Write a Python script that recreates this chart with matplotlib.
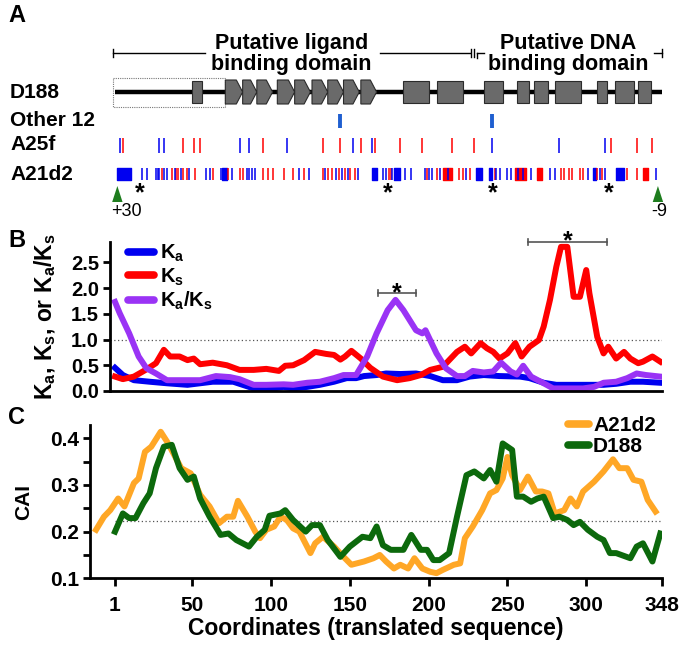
import numpy as np
import matplotlib
matplotlib.use('Agg')
import matplotlib.pyplot as plt
from matplotlib.patches import Polygon, Rectangle
from matplotlib.lines import Line2D
from matplotlib.transforms import blended_transform_factory

plt.rcParams['font.family'] = 'Liberation Sans'
plt.rcParams['font.weight'] = 'bold'
plt.rcParams['axes.labelweight'] = 'bold'
plt.rcParams['mathtext.fontset'] = 'custom'
plt.rcParams['mathtext.rm'] = 'Liberation Sans:bold'
plt.rcParams['mathtext.it'] = 'Liberation Sans:bold'
plt.rcParams['mathtext.bf'] = 'Liberation Sans:bold'
plt.rcParams['mathtext.default'] = 'bf'
plt.rcParams['axes.unicode_minus'] = False

# ---------------- data ----------------
# panel A: gene model of D188 (codon coordinates)
d188_arrows = [(71, 82), (82, 91), (91, 101), (104, 115), (115, 125), (126, 136),
               (136, 146), (146, 156), (157, 167)]
d188_boxes = [(50, 56), (184, 200), (205, 222), (235, 247), (256, 264), (267, 276),
              (280, 297), (307, 313), (318, 330), (333, 341)]
d188_dotted = (0, 71)

other12 = [144, 240]
a25f_blue = [4, 29, 32, 80, 86, 110, 152, 164, 240, 283, 312]
a25f_red = [6, 44, 51, 55, 95, 133, 144, 157, 166, 182, 196, 215, 229, 316, 332, 342]

a21d2_blue = [18, 21, 27, 28, 29, 32, 34, 39, 43, 48, 59, 61, 68, 75, 85, 86, 88, 90,
              118, 124, 134, 141, 145, 149, 155, 171, 173, 177, 185, 189, 198, 200,
              202, 207, 212, 224, 243, 245, 250, 252, 257, 260, 265, 277, 280, 301,
              309, 312, 344]
a21d2_blue_blocks = [(2, 11), (69, 72), (164, 167), (178, 182), (230, 234), (238, 240),
                     (304, 306), (319, 324)]
a21d2_red = [31, 37, 40, 41, 44, 47, 52, 63, 73, 80, 82, 95, 98, 101, 108, 114, 121,
             133, 136, 139, 143, 147, 150, 153, 175, 176, 199, 205, 219, 222, 226, 242,
             284, 286, 289, 291, 296, 298, 307, 310, 326, 332]
a21d2_red_blocks = [(209, 215), (255, 262), (269, 272), (336, 339)]
a_stars = [17, 174, 241, 314]
ends = [2.5, 345.5]
end_labels = ['+30', '-9']

# panel B: Ka, Ks, Ka/Ks
ka_x = [1, 6, 13, 23, 34, 47, 55, 63, 76, 82, 89, 102, 108, 114, 123, 131, 140, 148,
        154, 159, 167, 173, 182, 192, 201, 209, 218, 226, 235, 245, 258, 264, 273, 281,
        294, 302, 311, 319, 328, 336, 347]
ka_y = [0.45, 0.31, 0.21, 0.18, 0.15, 0.12, 0.15, 0.18, 0.18, 0.12, 0.05, 0.05, 0.08,
        0.05, 0.08, 0.12, 0.18, 0.25, 0.25, 0.29, 0.31, 0.34, 0.33, 0.34, 0.29, 0.21,
        0.21, 0.28, 0.31, 0.29, 0.28, 0.25, 0.16, 0.12, 0.12, 0.12, 0.12, 0.14, 0.18,
        0.18, 0.16]
ks_x = [1, 6, 13, 21, 27, 32, 36, 42, 47, 51, 55, 63, 72, 80, 89, 97, 105, 109, 114,
        121, 128, 135, 140, 144, 147, 151, 157, 163, 171, 180, 188, 195, 201, 209, 218,
        223, 227, 233, 237, 241, 245, 250, 255, 259, 264, 270, 273, 277, 281, 284, 288,
        292, 296, 300, 302, 307, 311, 314, 319, 324, 328, 333, 336, 342, 347]
ks_y = [0.28, 0.23, 0.28, 0.42, 0.54, 0.80, 0.67, 0.67, 0.60, 0.63, 0.52, 0.55, 0.50,
        0.41, 0.41, 0.43, 0.39, 0.49, 0.50, 0.60, 0.76, 0.72, 0.70, 0.61, 0.67, 0.78,
        0.63, 0.45, 0.28, 0.21, 0.25, 0.31, 0.41, 0.47, 0.76, 0.86, 0.73, 0.93, 0.83,
        0.76, 0.63, 0.73, 0.93, 0.67, 0.86, 0.99, 1.25, 1.77, 2.41, 2.80, 2.80, 1.83,
        1.83, 2.35, 1.90, 1.05, 0.73, 0.86, 0.63, 0.76, 0.63, 0.54, 0.57, 0.67, 0.57]
kaks_x = [1, 4, 10, 16, 21, 27, 34, 42, 55, 65, 74, 80, 89, 97, 108, 114, 123, 131,
          140, 146, 154, 161, 167, 174, 179, 184, 192, 196, 198, 205, 211, 218, 223,
          228, 235, 241, 246, 252, 256, 260, 265, 273, 279, 286, 298, 305, 311, 319,
          326, 332, 338, 347]
kaks_y = [1.73, 1.51, 1.12, 0.67, 0.44, 0.34, 0.21, 0.21, 0.21, 0.29, 0.27, 0.23, 0.12,
          0.12, 0.13, 0.12, 0.16, 0.18, 0.25, 0.31, 0.31, 0.67, 1.12, 1.57, 1.77, 1.57,
          1.18, 1.12, 1.18, 0.73, 0.44, 0.29, 0.29, 0.39, 0.36, 0.38, 0.55, 0.38, 0.32,
          0.49, 0.28, 0.15, 0.05, 0.05, 0.05, 0.08, 0.16, 0.18, 0.25, 0.34, 0.31, 0.28]
b_brackets = [(168, 192, 1.90), (263, 313, 2.90)]

# panel C: CAI
a21d2_x = [-11, -6, -2, 3, 7, 13, 16, 20, 24, 30, 34, 38, 43, 49, 55, 61, 67, 72, 76,
           79, 85, 90, 93, 97, 102, 106, 110, 114, 118, 125, 128, 133, 140, 146, 151,
           159, 165, 169, 173, 178, 182, 187, 191, 196, 201, 205, 209, 216, 220, 223,
           228, 234, 239, 243, 247, 250, 253, 258, 263, 268, 272, 276, 280, 286, 290,
           294, 298, 305, 311, 317, 321, 326, 330, 335, 339, 344]
a21d2_y = [0.204, 0.232, 0.246, 0.271, 0.254, 0.304, 0.314, 0.371, 0.382, 0.414, 0.393,
           0.368, 0.336, 0.325, 0.279, 0.254, 0.218, 0.232, 0.232, 0.266, 0.232, 0.2,
           0.186, 0.204, 0.211, 0.232, 0.225, 0.207, 0.2, 0.154, 0.175, 0.189, 0.168,
           0.146, 0.129, 0.136, 0.143, 0.15, 0.136, 0.121, 0.129, 0.121, 0.143, 0.121,
           0.114, 0.111, 0.118, 0.129, 0.132, 0.186, 0.211, 0.246, 0.282, 0.289, 0.314,
           0.36, 0.321, 0.289, 0.318, 0.286, 0.286, 0.282, 0.239, 0.246, 0.271, 0.254,
           0.286, 0.307, 0.329, 0.355, 0.336, 0.336, 0.311, 0.307, 0.268, 0.243]
d188_x = [1, 6, 10, 14, 19, 23, 27, 32, 37, 42, 47, 51, 55, 61, 68, 73, 78, 86, 91, 96,
          99, 106, 109, 114, 122, 126, 131, 136, 144, 150, 158, 163, 167, 171, 176, 184,
          189, 195, 199, 203, 207, 213, 218, 224, 229, 235, 239, 243, 247, 253, 256, 260,
          265, 269, 273, 279, 283, 288, 292, 296, 301, 307, 311, 315, 319, 328, 332, 336,
          342, 347]
d188_y = [0.2, 0.239, 0.229, 0.229, 0.261, 0.282, 0.336, 0.382, 0.386, 0.336, 0.311,
          0.318, 0.271, 0.232, 0.193, 0.196, 0.182, 0.168, 0.189, 0.204, 0.234, 0.239,
          0.246, 0.225, 0.2, 0.214, 0.214, 0.182, 0.146, 0.168, 0.189, 0.186, 0.211,
          0.171, 0.161, 0.161, 0.193, 0.161, 0.161, 0.139, 0.139, 0.154, 0.232, 0.321,
          0.329, 0.314, 0.332, 0.307, 0.389, 0.375, 0.275, 0.275, 0.264, 0.271, 0.275,
          0.229, 0.232, 0.225, 0.214, 0.221, 0.204, 0.189, 0.182, 0.154, 0.154, 0.143,
          0.168, 0.175, 0.136, 0.196]
cai_mean = 0.223
c_xticks = [1, 50, 100, 150, 200, 250, 300, 348]

# ---------------- layout helpers (pixels of the 686x649 figure) ----------------
W, H = 686, 649
def fx(px):
    return px / W
def fy(py):
    return 1 - py / H
def px2seq(px):
    return 1 + (px - 115) / 1.576

BLUE, RED, PURPLE = '#0000f0', '#ff0000', '#9a33f5'
ORANGE, GREEN = '#ffa726', '#0c690c'

fig = plt.figure(figsize=(W / 100, H / 100), dpi=100)

# ================= panel A =================
axA = fig.add_axes([0, fy(220), 1, 220 / H])
axA.set_xlim(px2seq(0), px2seq(W))
axA.set_ylim(220, 0)
axA.axis('off')
tr = blended_transform_factory(axA.transAxes, axA.transData)

# domain brackets
by = 53
axA.plot([0, 58], [by, by], color='black', lw=1)
axA.plot([169, 226.5], [by, by], color='black', lw=1)
axA.plot([0, 0], [by - 4, by + 4], color='black', lw=1)
for xb in [227, 229]:
    axA.plot([xb, xb], [by - 4, by + 4], color='black', lw=1)
axA.plot([231, 235], [by, by], color='black', lw=1)
axA.plot([231, 231], [by, by + 5], color='black', lw=1)
axA.plot([343, 348], [by, by], color='black', lw=1)
axA.plot([348, 348], [by - 4, by + 4], color='black', lw=1)
axA.text(113, 54, 'Putative ligand\nbinding domain', ha='center', va='center',
         fontsize=15.5, fontweight='bold', linespacing=0.95)
axA.text(288.5, 54, 'Putative DNA\nbinding domain', ha='center', va='center',
         fontsize=15.5, fontweight='bold', linespacing=0.95)

# D188 gene model
gy = 92
axA.add_patch(Rectangle((d188_dotted[0], 78), d188_dotted[1] - d188_dotted[0], 29,
                        fill=False, ec='#777777', ls=(0, (1, 1)), lw=0.8))
axA.plot([1, 348], [gy, gy], color='black', lw=3.2, solid_capstyle='butt', zorder=2)
for s, e in d188_arrows:
    tip = 4
    axA.add_patch(Polygon([(s, gy - 12), (e - tip, gy - 12), (e, gy), (e - tip, gy + 12),
                           (s, gy + 12)], closed=True, fc='#6a6a6a', ec='#2b2b2b',
                          lw=0.8, zorder=3))
for s, e in d188_boxes:
    axA.add_patch(Rectangle((s, gy - 11), e - s, 22, fc='#6a6a6a', ec='#2b2b2b',
                            lw=0.8, zorder=3))

# row labels
for lab, yy in [('D188', 92), ('Other 12', 121), ('A25f', 145), ('A21d2', 174)]:
    axA.text(10 / W, yy, lab, transform=tr, ha='left', va='center', fontsize=15,
             fontweight='bold')

# substitution ticks
axA.vlines(other12, 114, 128, colors='#1f5fd0', lw=2.8)
axA.vlines(a25f_blue, 138, 153, colors=BLUE, lw=1.1)
axA.vlines(a25f_red, 138, 153, colors=RED, lw=1.1)
axA.broken_barh([(s, e - s) for s, e in a21d2_red_blocks], (168, 12), color=RED)
axA.vlines(a21d2_red, 168, 180, colors=RED, lw=1.1)
axA.broken_barh([(s, e - s) for s, e in a21d2_blue_blocks], (168, 12), color=BLUE)
axA.vlines(a21d2_blue, 168, 180, colors=BLUE, lw=1.1)
for xs in a_stars:
    axA.annotate('*', (xs, 188), xytext=(0, -9), textcoords='offset points',
                 ha='center', va='baseline', fontsize=18, fontweight='bold')
for xe, lab in zip(ends, end_labels):
    axA.add_patch(Polygon([(xe, 186), (xe - 3.3, 202), (xe + 3.3, 202)], closed=True,
                          fc='#1e7d1e', ec='none'))
    axA.text(xe + (6 if lab == '+30' else 1), 212, lab, ha='center', va='center',
             fontsize=13, fontweight='normal')

# ================= panel B =================
axB = fig.add_axes([fx(110), fy(391), fx(662) - fx(110), (391 - 241.7) / H])
axB.plot(ka_x, ka_y, color=BLUE, lw=4.3)
axB.plot(ks_x, ks_y, color=RED, lw=4.3)
axB.plot(kaks_x, kaks_y, color=PURPLE, lw=4.3)
axB.axhline(1.0, color='#555555', ls=(0, (1, 2)), lw=0.9, zorder=0)
axB.set_xlim(px2seq(110), px2seq(662))
axB.set_ylim(0, 2.9)
axB.set_xticks([])
axB.set_yticks([0, 0.5, 1.0, 1.5, 2.0, 2.5])
axB.set_yticklabels(['0.0', '0.5', '1.0', '1.5', '2.0', '2.5'], fontweight='bold')
axB.tick_params(axis='y', direction='out', length=5, width=2, labelsize=14.5, pad=3)
for sp in ['top', 'right']:
    axB.spines[sp].set_visible(False)
for sp in ['left', 'bottom']:
    axB.spines[sp].set_linewidth(2)
axB.set_ylabel('K$_a$, K$_s$, or K$_a$/K$_s$', fontsize=16.5, fontweight='bold')
axB.yaxis.set_label_coords((58 - 110) / 552, 0.5)
for x0, x1, yb in b_brackets:
    axB.plot([x0, x1], [yb, yb], color='#555555', lw=1.2, clip_on=False)
    axB.plot([x0, x0], [yb - 0.06, yb + 0.06], color='#555555', lw=1.2, clip_on=False)
    axB.plot([x1, x1], [yb - 0.06, yb + 0.06], color='#555555', lw=1.2, clip_on=False)
    axB.annotate('*', ((x0 + x1) / 2, yb), xytext=(0, -5), textcoords='offset points',
                 ha='center', va='baseline', fontsize=18, fontweight='bold',
                 annotation_clip=False)
hB = [Line2D([], [], color=c, lw=5.5, solid_capstyle='round') for c in [BLUE, RED, PURPLE]]
axB.legend(hB, ['K$_a$', 'K$_s$', 'K$_a$/K$_s$'], loc='upper left',
           bbox_to_anchor=(fx(128), fy(243)), bbox_transform=fig.transFigure,
           frameon=False, prop={'size': 14.5, 'weight': 'bold'}, handlelength=1.3,
           handletextpad=0.3, labelspacing=0.1, borderpad=0, borderaxespad=0)

# ================= panel C =================
axC = fig.add_axes([fx(90), fy(578.3), fx(662) - fx(90), (578.3 - 425) / H])
axC.plot(a21d2_x, a21d2_y, color=ORANGE, lw=4.3)
axC.plot(d188_x, d188_y, color=GREEN, lw=4.3)
axC.hlines(cai_mean, 1, 348, color='#555555', linestyles=(0, (1, 2)), lw=0.9, zorder=0)
axC.set_xlim(px2seq(90), px2seq(662))
axC.set_ylim(0.1, 0.4285)
axC.set_xticks(c_xticks)
axC.set_xticklabels([str(v) for v in c_xticks], fontweight='bold')
axC.set_yticks([0.1, 0.2, 0.3, 0.4])
axC.set_yticks([0.15, 0.25, 0.35], minor=True)
axC.set_yticklabels(['0.1', '0.2', '0.3', '0.4'], fontweight='bold')
axC.tick_params(axis='x', direction='out', length=6, width=2, labelsize=15, pad=7)
axC.tick_params(axis='y', which='both', direction='out', length=5, width=2,
                labelsize=15, pad=3)
for sp in ['top', 'right']:
    axC.spines[sp].set_visible(False)
for sp in ['left', 'bottom']:
    axC.spines[sp].set_linewidth(2)
axC.set_xlabel('Coordinates (translated sequence)', fontsize=16.5, fontweight='bold',
               labelpad=1)
axC.set_ylabel('CAI', fontsize=15, fontweight='bold')
axC.yaxis.set_label_coords((33 - 90) / 572, 0.5)
hC = [Line2D([], [], color=c, lw=5.5, solid_capstyle='round') for c in [ORANGE, GREEN]]
axC.legend(hC, ['A21d2', 'D188'], loc='upper left',
           bbox_to_anchor=(fx(568), fy(416)), bbox_transform=fig.transFigure,
           frameon=False, prop={'size': 15, 'weight': 'bold'}, handlelength=1.0,
           handletextpad=0.2, labelspacing=0.1, borderpad=0, borderaxespad=0)

# panel letters
for lab, yy in [('A', 15), ('B', 240), ('C', 418)]:
    fig.text(fx(8), fy(yy), lab, fontsize=17, fontweight='bold', va='center', ha='left')

fig.savefig('out.png', dpi=100)
